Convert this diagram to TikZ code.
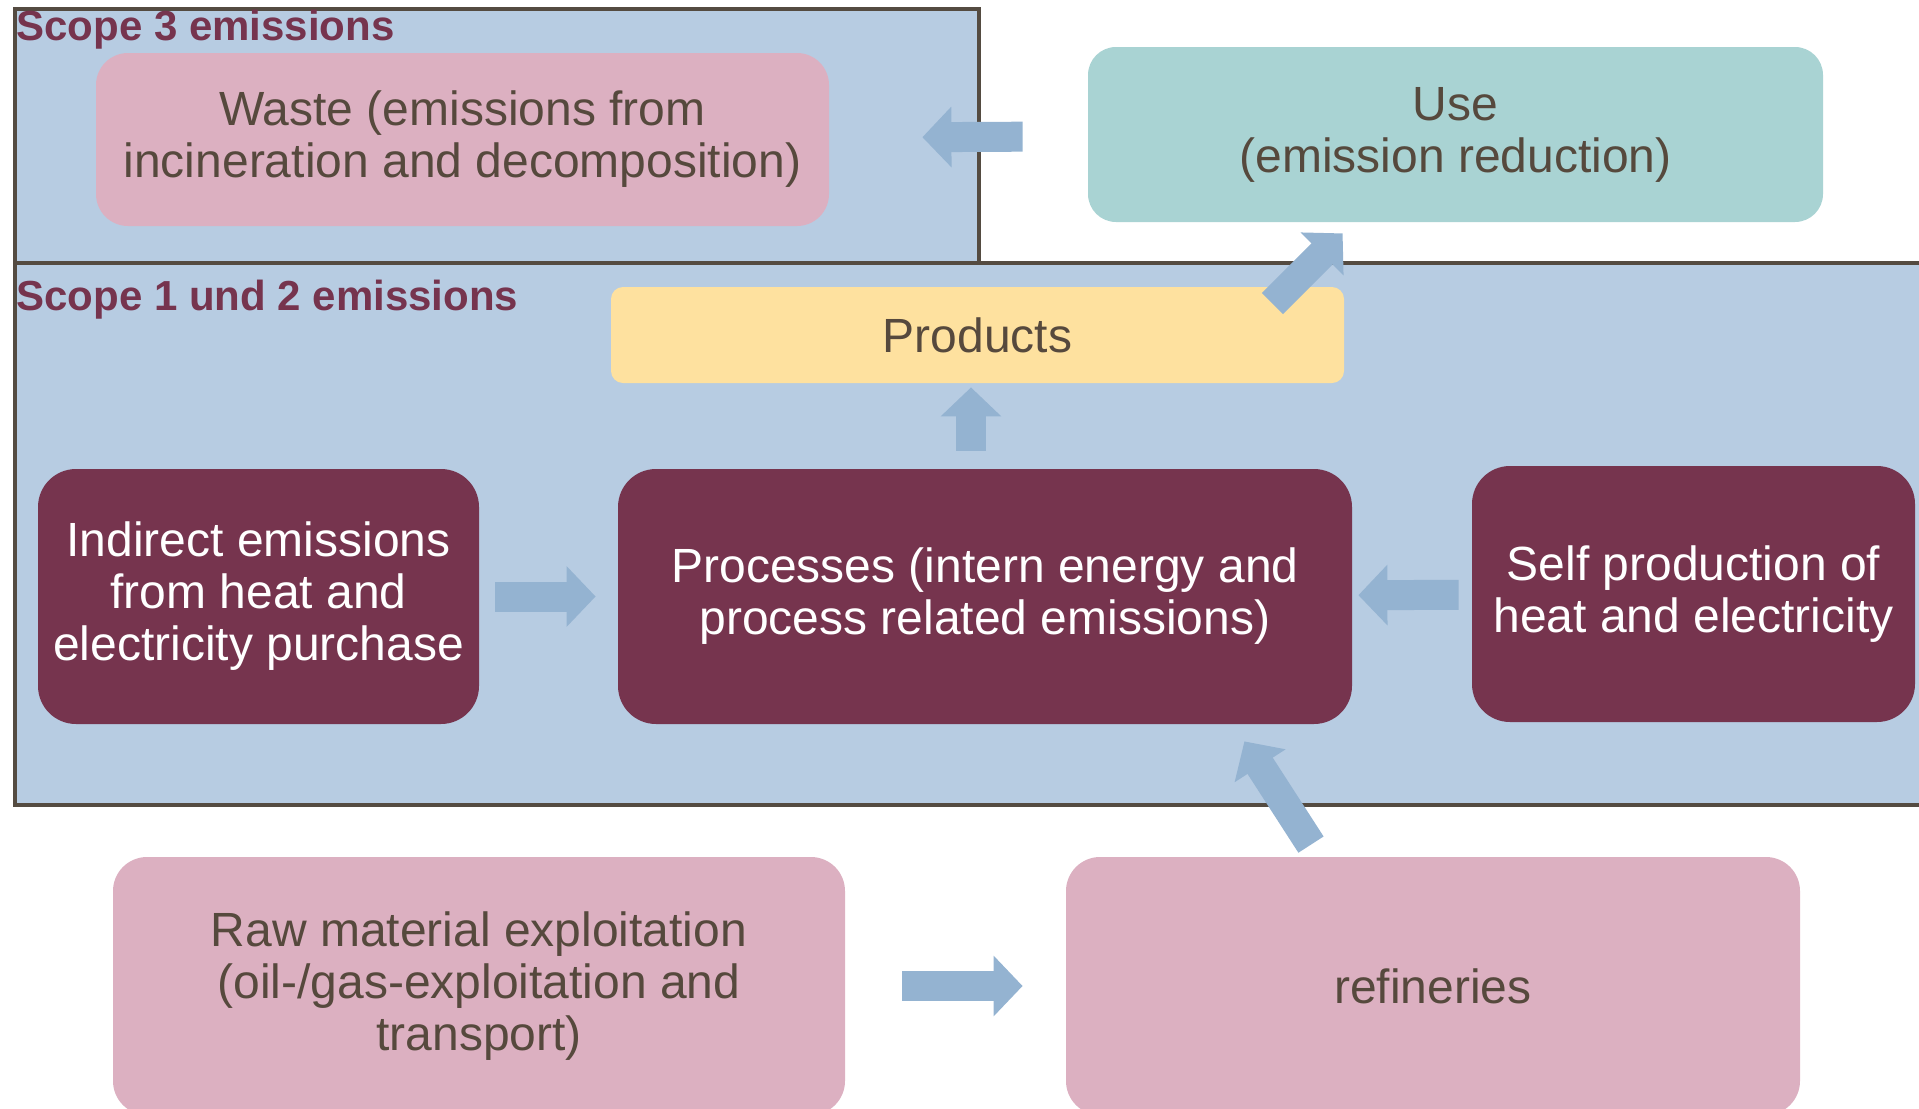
\documentclass[tikz,border=0pt]{standalone}
\usepackage{fontspec}
\setmainfont{Liberation Sans}
\usetikzlibrary{arrows.meta}

\definecolor{scopeblue}{HTML}{B7CCE2}
\definecolor{framebrown}{HTML}{544B41}
\definecolor{rose}{HTML}{DCB0C1}
\definecolor{usegreen}{HTML}{A9D3D3}
\definecolor{sand}{HTML}{FEE19F}
\definecolor{wine}{HTML}{76344E}
\definecolor{arrowblue}{HTML}{94B3D1}
\definecolor{textgray}{HTML}{56493D}

\begin{document}
\begin{tikzpicture}[x=0.5pt, y=-0.5pt,
    box/.style={rounded corners=16pt, inner sep=0pt, align=center, text=textgray,
        font=\fontsize{24}{26}\selectfont},
    darkbox/.style={box, fill=wine, text=white, rounded corners=19pt},
    blockarrow/.style={draw=arrowblue, line width=15pt, -{Triangle[length=14.5pt, width=29.5pt]}},
    scopelabel/.style={anchor=base west, inner sep=0pt, text=wine,
        font=\bfseries\fontsize{21}{24}\selectfont}]
    \useasboundingbox (0,0) rectangle (1919,1109);
    \clip (0,0) rectangle (1919,1109);

    % Scopes
    \filldraw[fill=scopeblue, draw=framebrown, line width=2pt] (15,9) rectangle (979,263);
    \filldraw[fill=scopeblue, draw=framebrown, line width=2pt] (15,263) rectangle (1940,805);
    \node[scopelabel] (scope3) at (16,40) {Scope 3 emissions};
    \node[scopelabel] (scope12) at (16,310) {Scope 1 und 2 emissions};

    % Boxes
    \node[box, fill=rose, minimum width=366.5pt, minimum height=86.5pt] (waste) at (462.5,139.5)
        {Waste (emissions from\\incineration and decomposition)};
    \node[box, fill=usegreen, rounded corners=14pt, minimum width=367.5pt, minimum height=87.5pt] (use) at (1455.5,134.5)
        {Use\\(emission reduction)};
    \node[box, fill=sand, rounded corners=6pt, minimum width=366.5pt, minimum height=48pt] (prod) at (977.5,335)
        {Products};
    \node[darkbox, minimum width=220.5pt, minimum height=127.5pt] (ind) at (258.5,596.5)
        {Indirect emissions\\from heat and\\electricity purchase};
    \node[darkbox, minimum width=367pt, minimum height=127.5pt] (proc) at (985,596.5)
        {Processes (intern energy and\\process related emissions)};
    \node[darkbox, minimum width=221.5pt, minimum height=128pt] (self) at (1693.5,594)
        {Self production of\\heat and electricity};
    \node[box, fill=rose, rounded corners=17pt, minimum width=366pt, minimum height=129pt] (raw) at (479,986)
        {Raw material exploitation\\(oil-/gas-exploitation and\\transport)};
    \node[box, fill=rose, rounded corners=17pt, minimum width=367pt, minimum height=129pt] (ref) at (1433,986)
        {refineries};

    % Arrows
    \draw[blockarrow, shorten <=32.5pt, shorten >=46.5pt] (use) -- (waste);
    \draw[blockarrow] ([shift={(-72,17)}]prod.north east) -- ([shift={(255,11)}]use.south west);
    \draw[blockarrow, shorten <=9pt, shorten >=2pt] ([xshift=-7pt]proc.north) -- ([xshift=-7pt]proc.north |- prod.south);
    \draw[blockarrow, shorten <=8pt, shorten >=11pt] (ind) -- (proc);
    \draw[blockarrow, shorten <=6.5pt, shorten >=3pt] (self) -- (proc);
    \draw[blockarrow, shorten <=28.5pt, shorten >=21.5pt] (raw) -- (ref);
    \draw[blockarrow] ([shift={(-122,-12)}]ref.north) -- ([shift={(-108,17)}]proc.south east);
\end{tikzpicture}
\end{document}
